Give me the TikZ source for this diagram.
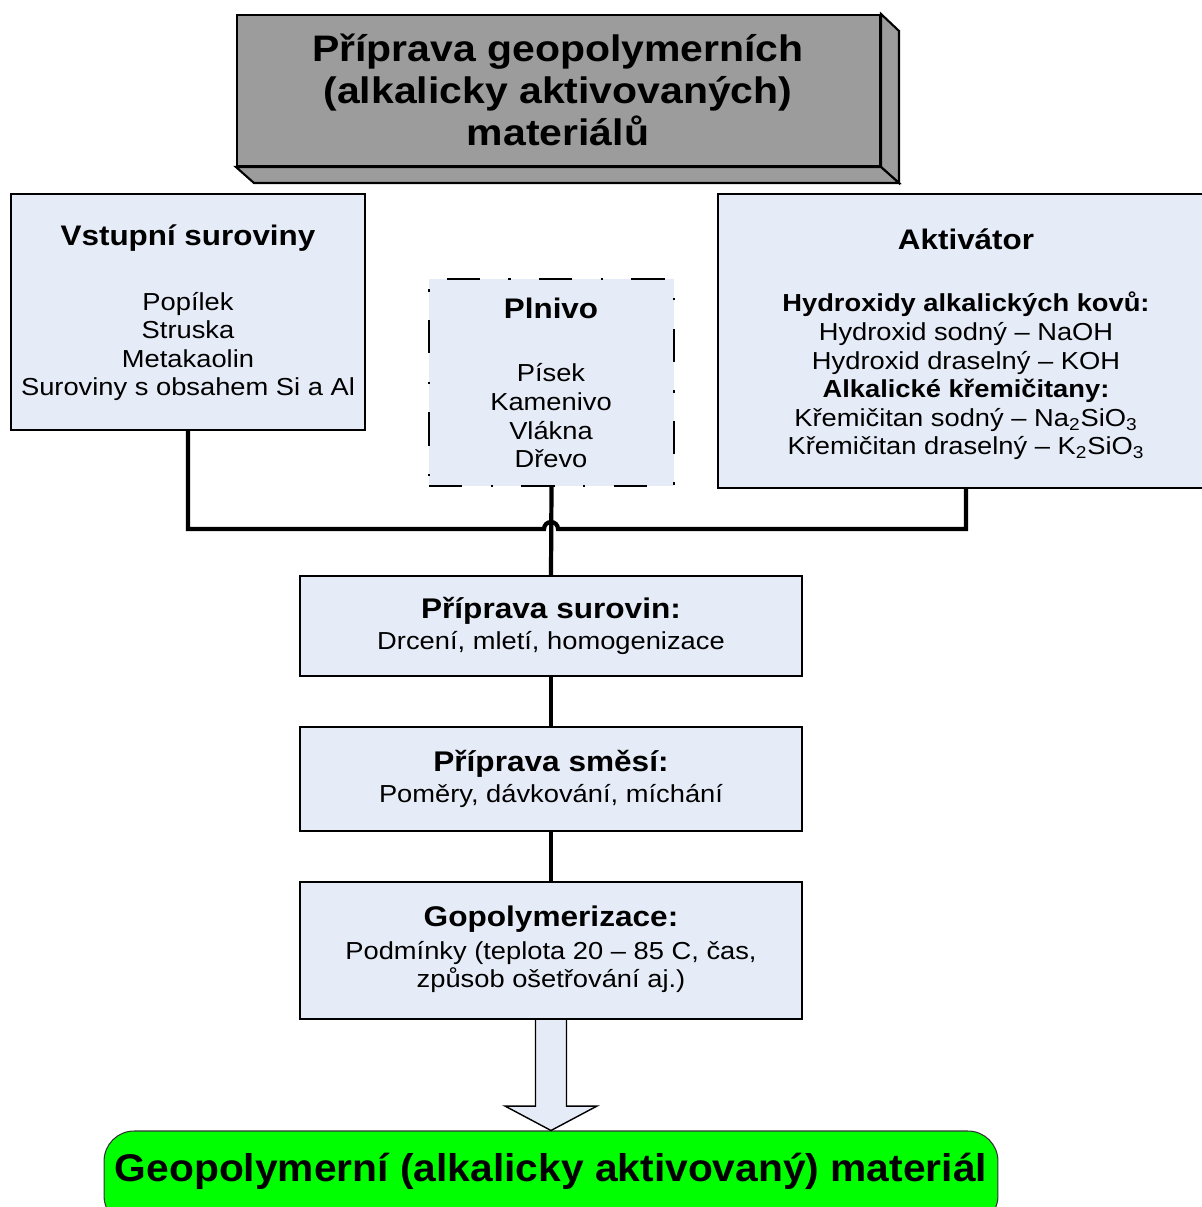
\documentclass[tikz,border=0pt]{standalone}
\usepackage{fontspec}
\setmainfont{Liberation Sans}[FakeStretch=1.11]
\usetikzlibrary{calc}

\definecolor{boxfill}{HTML}{E6ECF7}
\definecolor{titlegray}{HTML}{9C9C9C}
\definecolor{resultgreen}{HTML}{00FF00}

\tikzset{
  panel/.style={draw=black, line width=1.2pt, fill=boxfill, inner sep=0pt},
  fillerbox/.style={draw=black, line width=1.2pt, fill=boxfill, inner sep=0pt,
    dash pattern=on 19pt off 16pt on 1.5pt off 16pt},
  link/.style={draw=black, line width=2.4pt},
  head/.style={font=\bfseries\fontsize{16.1}{18.5}\selectfont, inner sep=0pt},
  body/.style={font=\fontsize{14}{16.3}\selectfont, align=center, inner sep=0pt},
  stephead/.style={font=\bfseries\fontsize{16.2}{18.5}\selectfont, inner sep=0pt},
}

\begin{document}
\begin{tikzpicture}[x=0.02cm, y=-0.02cm]
\useasboundingbox (0,0) rectangle (1202,1207);
\clip (0,0) rectangle (1202,1207);

% ---- bevelled title block ----
\node[draw=black, line width=1.2pt, fill=titlegray, minimum width=12.86cm,
      minimum height=3.02cm, inner sep=0pt] (title) at (558.5,90.5) {};
\draw[line width=1.2pt, fill=titlegray]
  (title.north east) -- ++(18,17) -- ($(title.south east)+(18,16)$)
  -- (title.south east) -- cycle;
\draw[line width=1.2pt, fill=titlegray]
  (title.south west) -- ++(18,16) -- ($(title.south east)+(18,16)$)
  -- (title.south east) -- cycle;
\node[font=\bfseries\fontsize{21}{23.9}\selectfont, align=center, inner sep=0pt]
  (titletext) at (558,90) {Příprava geopolymerních\\(alkalicky aktivovaných)\\materiálů};

% ---- input boxes ----
\node[panel, minimum width=7.08cm, minimum height=4.72cm] (vst) at (188,312) {};
\node[head] (vsth) at (188,238) {Vstupní suroviny};
\node[body] (vstb) at (188,346.5) {Popílek\\Struska\\Metakaolin\\Suroviny s obsahem Si a Al};

\node[fillerbox, minimum width=4.9cm, minimum height=4.14cm] (pln) at (551.5,382.5) {};
\node[head] (plnh) at (551,308) {Plnivo};
\node[body] (plnb) at (551,416) {Písek\\Kamenivo\\Vlákna\\Dřevo};

\node[panel, minimum width=9.92cm, minimum height=5.88cm] (akt) at (966,341) {};
\node[head] (akth) at (966,239) {Aktivátor};
\node[body] (aktb) at (966,376)
  {\textbf{Hydroxidy alkalických kovů:}\\
   Hydroxid sodný – NaOH\\
   Hydroxid draselný – KOH\\
   \textbf{Alkalické křemičitany:}\\
   Křemičitan sodný – Na\textsubscript{2}SiO\textsubscript{3}\\
   Křemičitan draselný – K\textsubscript{2}SiO\textsubscript{3}};

% ---- process steps ----
\node[panel, minimum width=10.04cm, minimum height=2cm] (s1) at (551,626) {};
\node[stephead] (s1h) at (551,611) {Příprava surovin:};
\node[body] (s1b) at (551,643) {Drcení, mletí, homogenizace};

\node[panel, minimum width=10.04cm, minimum height=2.08cm] (s2) at (551,779) {};
\node[stephead] (s2h) at (551,764) {Příprava směsí:};
\node[body] (s2b) at (551,796) {Poměry, dávkování, míchání};

\node[panel, minimum width=10.04cm, minimum height=2.74cm] (s3) at (551,950.5) {};
\node[stephead] (s3h) at (551,919) {Gopolymerizace:};
\node[body] (s3b) at (551,967) {Podmínky (teplota 20 – 85 C, čas,\\způsob ošetřování aj.)};

% ---- result ----
\node[draw=black!80, line width=0.6pt, fill=resultgreen, rounded corners=0.6cm,
      minimum width=17.88cm, minimum height=1.9cm, inner sep=0pt] (res) at (551,1178.5) {};
\node[font=\bfseries\fontsize{22}{26}\selectfont, inner sep=0pt] (resh) at (551,1171)
  {\scalebox{0.95}[1]{Geopolymerní (alkalicky aktivovaný) materiál}};

% ---- collecting line with a hop over the filler link ----
\coordinate (join) at (551,529);
\draw[link] (vst.south) |- ($(join)+(-7,0)$)
  arc[start angle=180, end angle=360, radius=7] -- ($(join)+(7,0)$) -| (akt.south);
\draw[link] (pln.south) -- (s1.north);
\draw[link] (s1.south) -- (s2.north);
\draw[link] (s2.south) -- (s3.north);

% ---- block arrow to the result ----
\draw[line width=0.8pt, fill=boxfill]
  ($(s3.south)+(-15.5,0)$) -- ++(0,86) -- ++(-30.5,0) -- (res.north)
  -- ($(s3.south)+(46,86)$) -- ++(-30.5,0) -- ($(s3.south)+(15.5,0)$);
\end{tikzpicture}
\end{document}
